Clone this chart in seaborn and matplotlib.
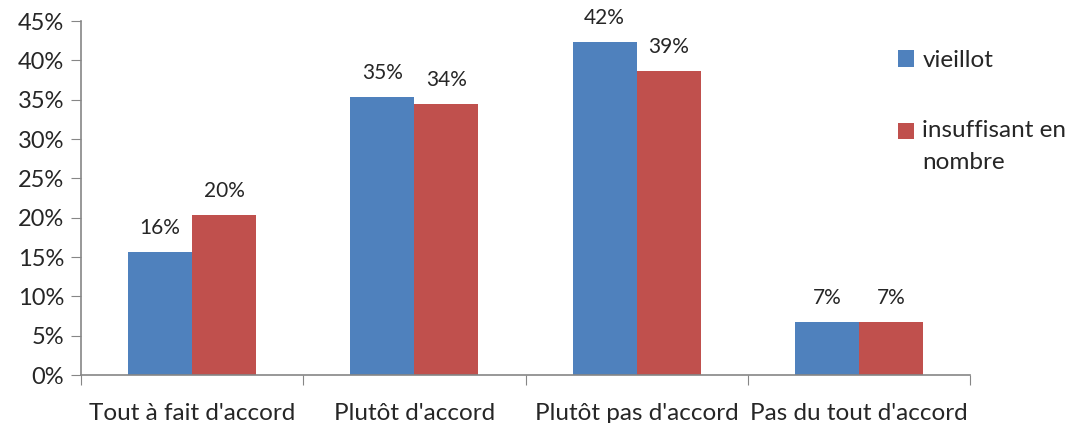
import pandas as pd
import seaborn as sns
from matplotlib import pyplot as plt
from matplotlib.legend_handler import HandlerPatch
from matplotlib.patches import Rectangle
from matplotlib.ticker import PercentFormatter

# Chart data (percent)
CATEGORIES = ["Tout à fait d'accord", "Plutôt d'accord", "Plutôt pas d'accord", "Pas du tout d'accord"]
SERIES = ["vieillot", "insuffisant en\nnombre"]
VIEILLOT = [15.6, 35.3, 42.3, 6.8]
INSUFFISANT = [20.3, 34.4, 38.6, 6.8]
COLORS = ["#4f81bd", "#c0504d"]
AXIS_GREY = "#868686"

df = pd.DataFrame({
    "category": CATEGORIES * 2,
    "series": [SERIES[0]] * 4 + [SERIES[1]] * 4,
    "value": VIEILLOT + INSUFFISANT,
})

sns.set_style("white")
plt.rcParams["font.family"] = ["Lato", "DejaVu Sans"]

fig = plt.figure(figsize=(10.72, 4.23), dpi=100)
ax = fig.add_axes([81 / 1072, 1 - 375 / 423, (970 - 81) / 1072, (375 - 21) / 423])

sns.barplot(
    data=df,
    x="category",
    y="value",
    hue="series",
    palette=COLORS,
    width=0.577,
    saturation=1,
    linewidth=0,
    ax=ax,
)

ax.set_ylim(0, 45)
ax.set_xlim(-0.5, 3.5)
ax.set_yticks(range(0, 50, 5))
ax.yaxis.set_major_formatter(PercentFormatter(decimals=0))
ax.set(xlabel="", ylabel="")

# x ticks at the category boundaries, labels at the centres
ax.set_xticks([i - 0.5 for i in range(5)])
ax.set_xticklabels([])
ax.set_xticks(range(4), minor=True)
ax.set_xticklabels(CATEGORIES, minor=True, fontsize=17.5)
ax.tick_params(axis="x", which="minor", length=0, pad=20)
ax.tick_params(axis="x", which="major", length=7, color=AXIS_GREY, direction="out", bottom=True)
ax.tick_params(axis="y", length=7, color=AXIS_GREY, direction="out", left=True, labelsize=17, pad=5)

for side in ("top", "right"):
    ax.spines[side].set_visible(False)
for side in ("left", "bottom"):
    ax.spines[side].set_color(AXIS_GREY)
    ax.spines[side].set_linewidth(1.2)

for cont in ax.containers:
    ax.bar_label(cont, labels=[f"{v:.0f}%" for v in cont.datavalues], padding=10, fontsize=15)


def raised_square(legend, orig_handle, xdescent, ydescent, width, height, fontsize):
    # square of the two-line entry sits next to its first line
    return Rectangle((-xdescent, -ydescent + 0.62 * fontsize), width, height)


handles, labels = ax.get_legend_handles_labels()
leg = ax.legend(
    handles,
    labels,
    handler_map={handles[1]: HandlerPatch(patch_func=raised_square)},
    loc="upper left",
    bbox_to_anchor=(898 / 1072, 1 - 50 / 423),
    bbox_transform=fig.transFigure,
    frameon=False,
    fontsize=17.5,
    handlelength=0.65,
    handleheight=0.65,
    handletextpad=0.35,
    labelspacing=2.0,
    borderaxespad=0,
    borderpad=0,
)
for t in leg.get_texts():
    t.set_linespacing(1.65)

fig.savefig("out.png", dpi=100)
